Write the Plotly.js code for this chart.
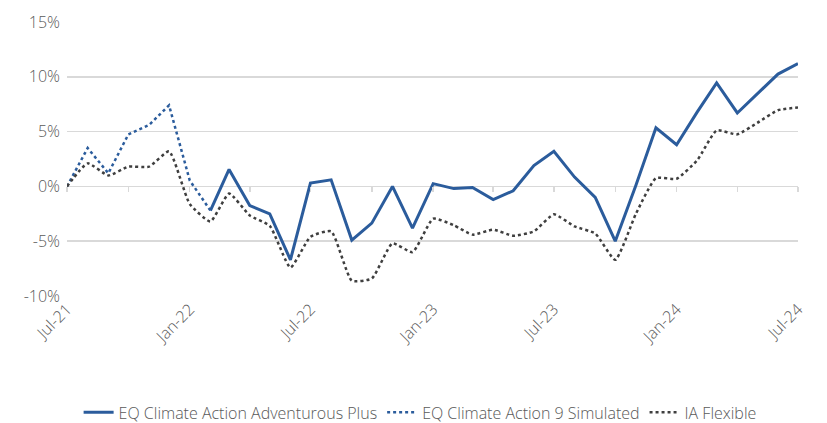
<!DOCTYPE html>
<html>
<head>
<meta charset="utf-8">
<script src="https://cdn.plot.ly/plotly-3.0.1.min.js"></script>
<style>html,body{margin:0;padding:0;background:#fff;}#chart{width:827px;height:423px;}</style>
</head>
<body>
<div id="chart"></div>
<script>
const months = [
  '2021-07-01','2021-08-01','2021-09-01','2021-10-01','2021-11-01','2021-12-01',
  '2022-01-01','2022-02-01','2022-03-01','2022-04-01','2022-05-01','2022-06-01',
  '2022-07-01','2022-08-01','2022-09-01','2022-10-01','2022-11-01','2022-12-01',
  '2023-01-01','2023-02-01','2023-03-01','2023-04-01','2023-05-01','2023-06-01',
  '2023-07-01','2023-08-01','2023-09-01','2023-10-01','2023-11-01','2023-12-01',
  '2024-01-01','2024-02-01','2024-03-01','2024-04-01','2024-05-01','2024-06-01',
  '2024-07-01'
];
const adventurousPlus = [
  null, null, null, null, null, null,
  null, -2.2, 1.55, -1.75, -2.5, -6.7,
  0.3, 0.6, -4.9, -3.35, 0.0, -3.8,
  0.25, -0.2, -0.1, -1.2, -0.4, 1.9,
  3.2, 0.85, -1.0, -5.0, 0.1, 5.35,
  3.8, 6.8, 9.45, 6.7, 8.4, 10.25,
  11.2
];
const simulated9 = [
  0.0, 3.5, 1.2, 4.75, 5.6, 7.4,
  0.55, -2.2
];
const iaFlexible = [
  0.0, 2.1, 1.0, 1.8, 1.8, 3.2,
  -1.6, -3.2, -0.65, -2.65, -3.6, -7.4,
  -4.6, -4.1, -8.6, -8.4, -5.2, -6.0,
  -2.95, -3.55, -4.4, -3.95, -4.5, -4.1,
  -2.55, -3.65, -4.3, -6.7, -2.5, 0.75,
  0.7, 2.4, 5.1, 4.75, 5.8, 6.95,
  7.2
];
const seriesNames = ['EQ Climate Action Adventurous Plus', 'EQ Climate Action 9 Simulated', 'IA Flexible'];
const yTickVals = [-10, -5, 0, 5, 10, 15];
const yTickText = ['-10%', '-5%', '0%', '5%', '10%', '15%'];

const blue = '#2B5C9C';
const grey = '#3F3F3F';
const font = {family: '"Open Sans", Roboto, sans-serif', size: 16, color: '#595959', weight: 300};
const legendFont = {family: '"Open Sans", Roboto, sans-serif', size: 16, color: '#595959', weight: 300};

const traces = [
  {x: months, y: adventurousPlus, name: seriesNames[0], type: 'scatter', mode: 'lines',
   line: {color: blue, width: 3}, connectgaps: false, hoverinfo: 'skip'},
  {x: months.slice(0, simulated9.length), y: simulated9, name: seriesNames[1], type: 'scatter', mode: 'lines',
   line: {color: blue, width: 2.5, dash: 'dot'}, hoverinfo: 'skip'},
  {x: months, y: iaFlexible, name: seriesNames[2], type: 'scatter', mode: 'lines', xaxis: 'x2',
   line: {color: grey, width: 2.5, dash: 'dot', shape: 'spline', smoothing: 0.5}, hoverinfo: 'skip'}
];

const layout = {
  width: 827, height: 423,
  margin: {l: 67, r: 29, t: 22, b: 127},
  paper_bgcolor: '#fff', plot_bgcolor: '#fff',
  font: font,
  showlegend: true,
  legend: {orientation: 'h', xref: 'container', x: 0.508, xanchor: 'center',
           yref: 'container', y: 0.025, yanchor: 'middle',
           font: legendFont, traceorder: 'normal'},
  xaxis: {type: 'date', range: [months[0], months[months.length - 1]],
          tickformat: '%b-%y', dtick: 'M6', tick0: months[0], tickangle: -45,
          showgrid: false, zeroline: false, showline: false, ticks: '',
          tickfont: font, fixedrange: true},
  xaxis2: {type: 'date', matches: 'x', overlaying: 'x', anchor: 'free', position: 0.4,
           dtick: 'M3', tick0: months[0], ticks: 'outside', ticklen: 5, tickwidth: 1.5,
           tickcolor: '#d9d9d9', showticklabels: false, showgrid: false, zeroline: false,
           showline: false},
  yaxis: {range: [-10, 15], tickvals: yTickVals, ticktext: yTickText,
          showgrid: true, gridcolor: '#d9d9d9', gridwidth: 1.5,
          zeroline: true, zerolinecolor: '#d9d9d9', zerolinewidth: 1.5,
          showline: false, ticks: '', ticklabelstandoff: 6, tickfont: font, fixedrange: true}
};

Plotly.newPlot('chart', traces, layout, {displayModeBar: false, staticPlot: true});
</script>
</body>
</html>
